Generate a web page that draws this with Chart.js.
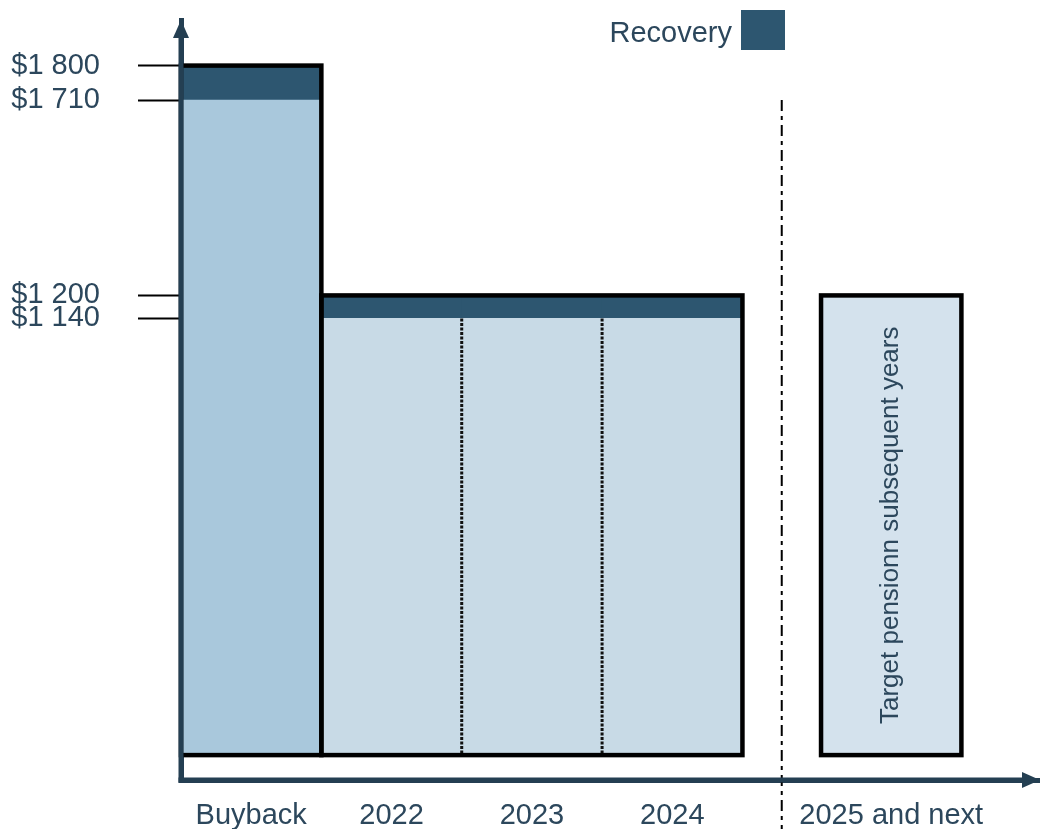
<!DOCTYPE html>
<html><head><meta charset="utf-8">
<script src="https://cdn.jsdelivr.net/npm/chart.js@4/dist/chart.umd.min.js"></script>
<style>html,body{margin:0;padding:0;background:#fff}#wrap{width:1040px;height:829px;position:relative;overflow:hidden}</style>
</head><body><div id="wrap"><canvas id="c" width="1040" height="829"></canvas></div>
<script>
// ---- data ----
const categories = ['Buyback', '2022', '2023', '2024', '2025 and next'];
const xPositions = [0, 1, 2, 3, 4.56];
const baseValues = [1710, 1140, 1140, 1140, 1200];
const recoveryValues = [90, 60, 60, 60, 0];
const yTickValues = [1140, 1200, 1710, 1800];
const yTickLabels = ['$1 140', '$1 200', '$1 710', '$1 800'];
const barGroups = [[0, 0], [1, 3], [4, 4]];
const noteText = 'Target pensionn subsequent years';
const legendLabel = 'Recovery';

// ---- styles ----
const FONT = '"Liberation Sans", Arial, sans-serif';
const TEXT = '#2c475c';
const AXIS = '#243f52';
const baseColors = ['#a9c8dc', '#c8dae6', '#c8dae6', '#c8dae6', '#d4e2ed'];
const recoveryColor = '#2d5670';

const overlay = {
  id: 'overlay',
  afterDatasetsDraw(chart) {
    const ctx = chart.ctx;
    const m0 = chart.getDatasetMeta(0).data, m1 = chart.getDatasetMeta(1).data;
    const xs = chart.scales.x, ys = chart.scales.y;
    ctx.save();
    // dividers inside groups
    ctx.strokeStyle = '#111'; ctx.lineWidth = 3; ctx.setLineDash([3, 1.5]);
    barGroups.forEach(([a, b]) => {
      for (let i = a; i < b; i++) {
        const x = ((m0[i].x + m0[i].width / 2) + (m0[i + 1].x - m0[i + 1].width / 2)) / 2;
        ctx.beginPath(); ctx.moveTo(x, m0[i].y); ctx.lineTo(x, m0[i].base); ctx.stroke();
      }
    });
    // group outlines
    ctx.setLineDash([]); ctx.lineWidth = 4.5; ctx.strokeStyle = '#000';
    barGroups.forEach(([a, b]) => {
      const l = m0[a].x - m0[a].width / 2, r = m0[b].x + m0[b].width / 2;
      let top = Infinity;
      for (let i = a; i <= b; i++) top = Math.min(top, m1[i].y, m0[i].y);
      const bot = m0[a].base;
      ctx.strokeRect(l, top, r - l, bot - top);
    });
    // separator line
    const sx = (xs.getPixelForValue(xPositions[3]) + xs.getPixelForValue(xPositions[4])) / 2;
    ctx.lineWidth = 2; ctx.setLineDash([11, 5, 4, 5]);
    ctx.beginPath(); ctx.moveTo(sx, ys.getPixelForValue(baseValues[0])); ctx.lineTo(sx, chart.height); ctx.stroke();
    ctx.setLineDash([]);
    // rotated note
    const el = m0[4];
    ctx.translate(el.x, (el.y + el.base) / 2);
    ctx.rotate(-Math.PI / 2);
    ctx.fillStyle = TEXT; ctx.font = '26px ' + FONT;
    ctx.textAlign = 'center'; ctx.textBaseline = 'middle';
    ctx.fillText(noteText, 0, 0);
    ctx.restore();
  },
  afterDraw(chart) {
    const ctx = chart.ctx, ca = chart.chartArea;
    ctx.save();
    // axis lines (thick)
    ctx.strokeStyle = AXIS; ctx.lineWidth = 5; ctx.lineCap = 'butt';
    ctx.beginPath(); ctx.moveTo(ca.left, ca.top + 10); ctx.lineTo(ca.left, ca.bottom + 3); ctx.stroke();
    ctx.beginPath(); ctx.moveTo(ca.left - 2.5, ca.bottom); ctx.lineTo(ca.right - 10, ca.bottom); ctx.stroke();
    ctx.fillStyle = AXIS;
    // y arrow
    ctx.beginPath();
    ctx.moveTo(ca.left, ca.top);
    ctx.lineTo(ca.left - 8, ca.top + 18);
    ctx.lineTo(ca.left + 8, ca.top + 18);
    ctx.closePath(); ctx.fill();
    // x arrow
    ctx.beginPath();
    ctx.moveTo(ca.right, ca.bottom);
    ctx.lineTo(ca.right - 18, ca.bottom - 8);
    ctx.lineTo(ca.right - 18, ca.bottom + 8);
    ctx.closePath(); ctx.fill();
    // legend
    ctx.font = '29px ' + FONT;
    ctx.fillStyle = TEXT; ctx.textAlign = 'right'; ctx.textBaseline = 'middle';
    ctx.fillText(legendLabel, 732, 34);
    ctx.fillStyle = recoveryColor;
    ctx.fillRect(741, 10, 44, 40);
    ctx.restore();
  }
};

function zeroPad(s) { s.paddingTop = 0; s.paddingBottom = 0; s.paddingLeft = 0; s.paddingRight = 0; }

new Chart(document.getElementById('c'), {
  type: 'bar',
  data: {
    datasets: [
      { label: 'Base', data: xPositions.map((x, i) => ({ x, y: baseValues[i] })), backgroundColor: baseColors, borderWidth: 0 },
      { label: legendLabel, data: xPositions.map((x, i) => ({ x, y: recoveryValues[i] })), backgroundColor: recoveryColor, borderWidth: 0 }
    ]
  },
  options: {
    responsive: false,
    animation: false,
    layout: { padding: { top: 20, right: 0, left: 0, bottom: 0 } },
    plugins: { legend: { display: false }, tooltip: { enabled: false } },
    datasets: { bar: { barPercentage: 1, categoryPercentage: 1 } },
    scales: {
      x: {
        type: 'linear', stacked: true, min: -0.5, max: 5.62, z: 1, offset: false,
        afterBuildTicks: s => { s.ticks = xPositions.map(v => ({ value: v })); },
        afterFit: s => { s.height = 49; zeroPad(s); },
        grid: { display: true, drawOnChartArea: false, drawTicks: false, offset: false },
        border: { display: true, color: AXIS, width: 5 },
        ticks: {
          autoSkip: false, maxRotation: 0, padding: 19, color: TEXT,
          font: { size: 29, family: FONT },
          callback: (v, i) => categories[i]
        }
      },
      y: {
        type: 'linear', stacked: true, min: -65, max: 1919, z: 1,
        afterBuildTicks: s => { s.ticks = yTickValues.map(v => ({ value: v })); },
        afterFit: s => { s.width = 181; zeroPad(s); },
        grid: { display: true, drawOnChartArea: false, drawTicks: true, tickLength: 43, tickColor: '#000', tickWidth: 2 },
        border: { display: true, color: AXIS, width: 5 },
        ticks: {
          autoSkip: false, padding: 38, color: TEXT,
          font: { size: 29, family: FONT },
          callback: (v, i) => yTickLabels[i]
        }
      }
    }
  },
  plugins: [overlay]
});
</script></body></html>
